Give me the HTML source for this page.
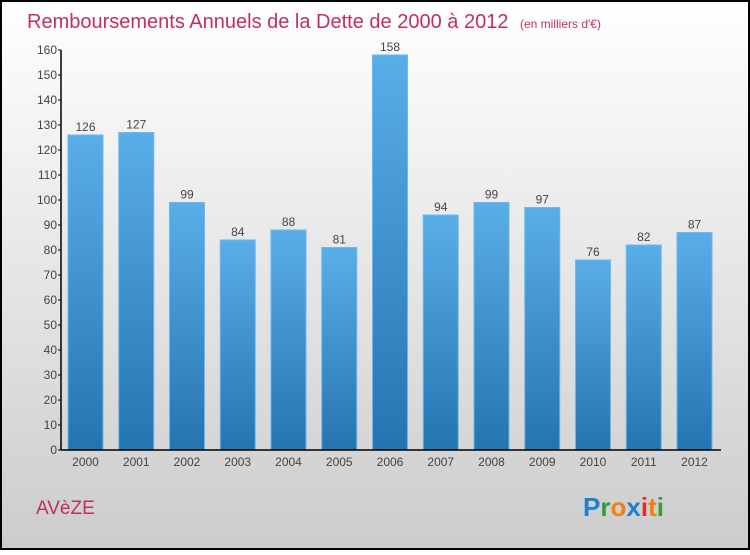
<!DOCTYPE html>
<html><head><meta charset="utf-8"><style>
html,body{margin:0;padding:0}
body{width:750px;height:550px;overflow:hidden;font-family:"Liberation Sans",sans-serif}
</style></head><body>
<svg id="c" width="750" height="550" xmlns="http://www.w3.org/2000/svg">
<defs>
<linearGradient id="bg" x1="0" y1="0" x2="0" y2="1"><stop offset="0" stop-color="#ffffff"/><stop offset="1" stop-color="#cccccc"/></linearGradient>
<linearGradient id="bar" x1="0" y1="0" x2="0" y2="1"><stop offset="0" stop-color="#5aaee8"/><stop offset="1" stop-color="#2474b0"/></linearGradient>
</defs>
<rect x="1" y="1" width="748" height="548" fill="url(#bg)" stroke="#000" stroke-width="2"/>
<text x="27" y="28" font-size="20" fill="#c0305f">Remboursements Annuels de la Dette de 2000 à 2012 <tspan font-size="12" dx="6">(en milliers d'€)</tspan></text>
<g id="plot"></g>
<text x="36" y="514" font-size="19" fill="#c0305f">AVèZE</text>
<g font-size="26" font-weight="bold">
<text x="583" y="516"><tspan fill="#1f7fd0">P</tspan><tspan fill="#3a9a3a">r</tspan><tspan fill="#f08010">o</tspan><tspan fill="#1f7fd0">x</tspan><tspan fill="#e03020">i</tspan><tspan fill="#f08010">t</tspan><tspan fill="#3a9a3a">i</tspan></text>
</g>
</svg>
<script>
const categories=["2000","2001","2002","2003","2004","2005","2006","2007","2008","2009","2010","2011","2012"];
const values=[126,127,99,84,88,81,158,94,99,97,76,82,87];
const yTicks=[0,10,20,30,40,50,60,70,80,90,100,110,120,130,140,150,160];
const NS="http://www.w3.org/2000/svg";
const g=document.getElementById('plot');
const x0=61,y0=450,yMax=160,plotH=400,step=50.75,bw=35;
const y=v=>y0-v/yMax*plotH;
const xc=i=>85.5+i*step;
function mk(t,a){const e=document.createElementNS(NS,t);for(const k in a)e.setAttribute(k,a[k]);g.appendChild(e);return e;}
yTicks.forEach(t=>{
  const l=mk('line',{x1:x0-3,x2:x0,y1:y(t),y2:y(t),stroke:'#000'});
  
  
  const tx=mk('text',{x:x0-4,y:y(t)+4,'font-size':12,fill:'#444','text-anchor':'end'});
  tx.textContent=t;
  
  
});
categories.forEach((c,i)=>{
  const r=mk('rect',{x:xc(i)-bw/2,y:y(values[i]),width:bw,height:y0-y(values[i]),fill:'url(#bar)',stroke:'#6ab8ee','stroke-width':1});
  
  
  const v=mk('text',{x:xc(i),y:y(values[i])-4,'font-size':12,fill:'#444','text-anchor':'middle'});
  v.textContent=values[i];
  
  
  const xl=mk('text',{x:xc(i),y:y0+16,'font-size':12,fill:'#444','text-anchor':'middle'});
  xl.textContent=c;
  
  
});
const ya=mk('line',{x1:x0,x2:x0,y1:y(yMax),y2:y0,stroke:'#000','stroke-width':1.5});


const xa=mk('line',{x1:x0,x2:721,y1:y0,y2:y0,stroke:'#000','stroke-width':1.5});


</script>
</body></html>
